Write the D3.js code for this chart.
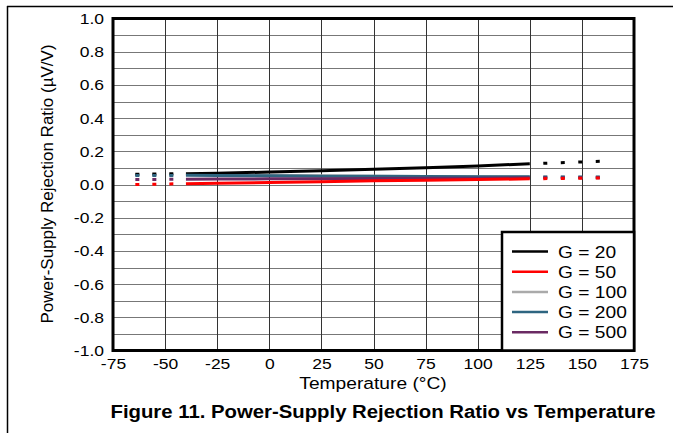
<!DOCTYPE html>
<html><head><meta charset="utf-8">
<script src="https://cdn.jsdelivr.net/npm/d3@7"></script>
<style>body{margin:0;background:#fff}svg{display:block;font-family:"Liberation Sans",Arial,sans-serif}</style>
</head><body><svg id="c" width="673" height="433"></svg>
<script>
const temps = [-40, -25, 0, 25, 50, 75, 100, 125];
const seriesNames = ["G = 20", "G = 50", "G = 100", "G = 200", "G = 500"];
const seriesColors = ["#000000", "#ff0000", "#aaaaaa", "#2e6580", "#6a2a63"];
const g20 = [0.065, 0.068, 0.075, 0.083, 0.092, 0.101, 0.112, 0.125];
const g50 = [0.005, 0.008, 0.012, 0.017, 0.022, 0.026, 0.030, 0.034];
const g100 = [0.060, 0.058, 0.055, 0.052, 0.050, 0.048, 0.046, 0.045];
const g200 = [0.055, 0.054, 0.052, 0.050, 0.049, 0.048, 0.047, 0.046];
const g500 = [0.032, 0.033, 0.034, 0.035, 0.036, 0.037, 0.038, 0.040];
// extrapolated (dashed) segments
const extLeftT = [-65, -40];
const extRightT = [125, 160];
const extLeft = [[0.062, 0.065], [0.000, 0.005], [0.058, 0.060], [0.054, 0.055], [0.030, 0.032]];
const extRight = [[0.125, 0.140], [0.034, 0.040], [0.045, 0.044], [0.046, 0.045], [0.040, 0.041]];
const xTicks = [-75, -50, -25, 0, 25, 50, 75, 100, 125, 150, 175];
const yTicks = [-1.0, -0.8, -0.6, -0.4, -0.2, 0.0, 0.2, 0.4, 0.6, 0.8, 1.0];
const yGrid = d3.range(-10, 11).map(v => v / 10);

const SX = 1.13; // horizontal text stretch seen in the reference
const seriesVals = [g20, g50, g100, g200, g500];
const svg = d3.select("#c");
const L = 113, R = 634, T = 18.5, B = 350.5;
const x = d3.scaleLinear().domain([-75, 175]).range([L, R]);
const y = d3.scaleLinear().domain([-1, 1]).range([B, T]);

// frame lines
svg.append("line").attr("x1", 7).attr("x2", 673).attr("y1", 6.5).attr("y2", 6.5).attr("stroke", "#000").attr("stroke-width", 1.5);
svg.append("line").attr("x1", 7.5).attr("x2", 7.5).attr("y1", 6).attr("y2", 433).attr("stroke", "#000").attr("stroke-width", 1.5);

// grid
svg.append("g").selectAll("line").data(yGrid).join("line")
  .attr("x1", L).attr("x2", R).attr("y1", d => Math.round(y(d)) + 0.5).attr("y2", d => Math.round(y(d)) + 0.5)
  .attr("stroke", "#777").attr("stroke-width", 1.2);
svg.append("g").selectAll("line").data(xTicks).join("line")
  .attr("x1", d => Math.round(x(d)) + 0.5).attr("x2", d => Math.round(x(d)) + 0.5).attr("y1", T).attr("y2", B)
  .attr("stroke", "#333").attr("stroke-width", 1);

// axes
const xAxis = svg.append("g").attr("transform", `translate(0,${B})`)
  .call(d3.axisBottom(x).tickValues(xTicks).tickSize(0).tickPadding(8).tickFormat(d => String(d)));
const yAxis = svg.append("g").attr("transform", `translate(${L},0)`)
  .call(d3.axisLeft(y).tickValues(yTicks).tickSize(0).tickPadding(9).tickFormat(d => d.toFixed(1)));
[xAxis, yAxis].forEach(a => {
  a.select(".domain").remove();
  a.selectAll("text").attr("font-size", 15.5).attr("fill", "#000").attr("font-family", "Liberation Sans, Arial, sans-serif");
});
xAxis.selectAll("text").attr("transform", `scale(${SX},1)`);
yAxis.selectAll("text").attr("transform", `translate(-9,0) scale(${SX},1)`).attr("x", 0);

const line = d3.line().x(d => x(d[0])).y(d => y(d[1]));
const order = [2, 0, 3, 4, 1];
// dashed extensions
order.forEach(i => {
  svg.append("path").datum(extLeftT.map((t, k) => [t, extLeft[i][k]])).attr("d", line)
    .attr("fill", "none").attr("stroke", seriesColors[i]).attr("stroke-width", 3)
    .attr("stroke-dasharray", "4 13").attr("stroke-dashoffset", -1.5);
  svg.append("path").datum(extRightT.map((t, k) => [t, extRight[i][k]])).attr("d", line)
    .attr("fill", "none").attr("stroke", seriesColors[i]).attr("stroke-width", 3)
    .attr("stroke-dasharray", "0 13.5 4 0");
});
// solid lines
order.forEach(i => {
  svg.append("path").datum(temps.map((t, k) => [t, seriesVals[i][k]])).attr("d", line)
    .attr("fill", "none").attr("stroke", seriesColors[i]).attr("stroke-width", 3);
});

// border
svg.append("rect").attr("x", L).attr("y", T).attr("width", R - L).attr("height", B - T)
  .attr("fill", "none").attr("stroke", "#000").attr("stroke-width", 3);

// legend
const lg = svg.append("g");
lg.append("rect").attr("x", 502).attr("y", 232).attr("width", R - 502).attr("height", B - 232)
  .attr("fill", "#fff").attr("stroke", "#000").attr("stroke-width", 2.5);
seriesNames.forEach((n, i) => {
  const yy = 251.5 + i * 20.2;
  lg.append("line").attr("x1", 512).attr("x2", 548).attr("y1", yy).attr("y2", yy)
    .attr("stroke", seriesColors[i]).attr("stroke-width", 2.5);
  lg.append("text").attr("transform", `translate(558,${yy + 6}) scale(${SX},1)`).attr("font-size", 17).text(n);
});

// labels
svg.append("text").attr("transform", `translate(373,389) scale(${SX},1)`).attr("text-anchor", "middle").attr("font-size", 17).text("Temperature (°C)");
svg.append("text").attr("transform", "translate(53,184) rotate(-90)").attr("text-anchor", "middle").attr("font-size", 17)
  .text("Power-Supply Rejection Ratio (µV/V)");
svg.append("text").attr("transform", `translate(383,418) scale(${SX},1)`).attr("text-anchor", "middle").attr("font-size", 18).attr("font-weight", "bold")
  .text("Figure 11. Power-Supply Rejection Ratio vs Temperature");
</script></body></html>
